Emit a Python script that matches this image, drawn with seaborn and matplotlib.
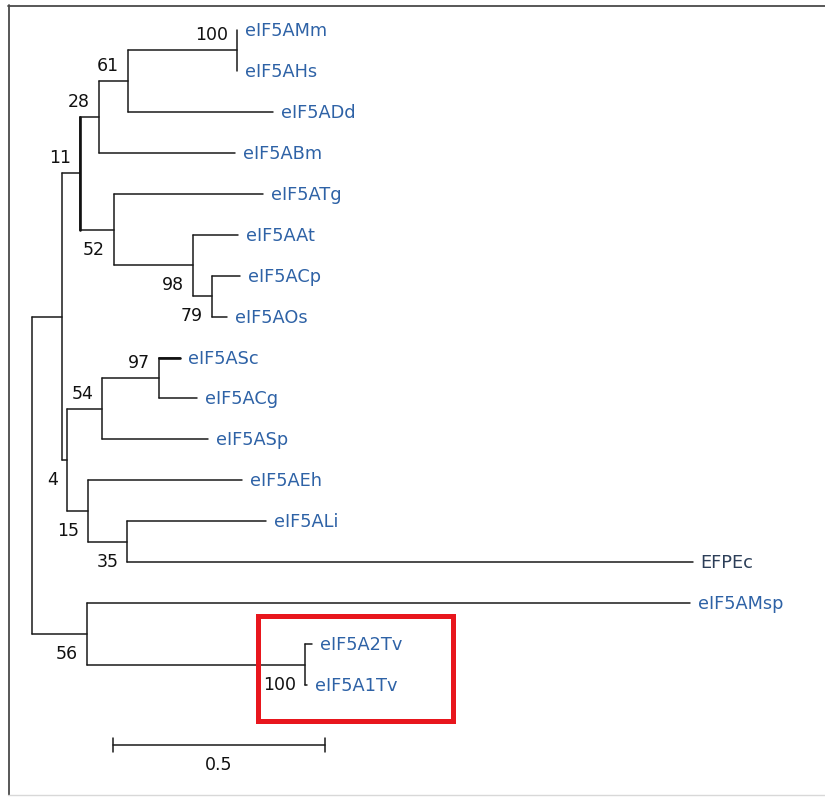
import numpy as np
import pandas as pd
import matplotlib
matplotlib.use("Agg")
import matplotlib.pyplot as plt
import seaborn as sns
from matplotlib.patches import Rectangle
from matplotlib.lines import Line2D

# ---------------- data: tree topology (preorder), branch lengths, labels ----------------
parent = [-1, 0, 1, 2, 3, 4, 5, 5, 4, 3, 2, 10, 10, 12, 12, 14, 14,
          1, 17, 18, 19, 19, 18, 17, 23, 23, 25, 25,
          0, 28, 28, 30, 30]
branch_length = [0.0, 0.071, 0.042, 0.045, 0.068, 0.257, 0.0, 0.0, 0.342, 0.321,
                 0.080, 0.351, 0.186, 0.108, 0.045, 0.066, 0.035,
                 0.012, 0.083, 0.134, 0.050, 0.090, 0.248, 0.050, 0.363, 0.092,
                 0.328, 1.333,
                 0.130, 1.422, 0.514, 0.017, 0.005]
node_label = ["", "", "", "", "", "", "eIF5AMm", "eIF5AHs", "eIF5ADd", "eIF5ABm",
              "", "eIF5ATg", "", "eIF5AAt", "", "eIF5ACp", "eIF5AOs",
              "", "", "", "eIF5ASc", "eIF5ACg", "eIF5ASp", "", "eIF5AEh", "",
              "eIF5ALi", "EFPEc",
              "", "eIF5AMsp", "", "eIF5A2Tv", "eIF5A1Tv"]
support = [None, None, 11, 28, 61, 100, None, None, None, None,
           52, None, 98, None, 79, None, None,
           4, 54, 97, None, None, None, 15, None, 35, None, None,
           56, None, 100, None, None]
support_side = ["", "", "up", "up", "up", "up", "", "", "", "",
                "down", "", "down", "", "down", "", "",
                "down", "up", "up", "", "", "", "down", "", "down", "", "",
                "down", "", "down", "", ""]
scale_length = 0.5
scale_label = "0.5"

# ---------------- layout ----------------
W, H = 825, 797
X0, SX = 32.0, 424.0      # pixel of root, pixels per unit distance
Y0, SY = 30.0, 40.94      # pixel of first leaf, pixels per leaf row

sns.set_theme(style="white")
plt.rcParams['font.family'] = ['DejaVu Sans']

n = len(parent)
children = [[] for _ in range(n)]
for i, p in enumerate(parent):
    if p >= 0:
        children[p].append(i)
depth = np.zeros(n)
for i in range(1, n):
    depth[i] = depth[parent[i]] + branch_length[i]
ypos = np.zeros(n)
k = 0
for i in range(n):
    if not children[i]:
        ypos[i] = k
        k += 1
for i in reversed(range(n)):
    if children[i]:
        ypos[i] = 0.5 * (ypos[children[i][0]] + ypos[children[i][-1]])

rows = []
seg = 0
for i in range(n):
    if parent[i] >= 0:
        rows += [(seg, depth[parent[i]], ypos[i]), (seg, depth[i], ypos[i])]
        seg += 1
    if children[i]:
        rows += [(seg, depth[i], ypos[children[i][0]]), (seg, depth[i], ypos[children[i][-1]])]
        seg += 1
df = pd.DataFrame(rows, columns=["seg", "x", "y"])

fig = plt.figure(figsize=(W / 100, H / 100), dpi=100)
ax = fig.add_axes([0, 0, 1, 1])
sns.lineplot(data=df, x="x", y="y", units="seg", estimator=None, sort=False,
             color="#1a1a1a", lw=1.1, ax=ax, legend=False)
# slightly heavier strokes seen in the scan
b = 2
ax.plot([depth[b], depth[b]], [ypos[children[b][0]], ypos[children[b][-1]]], color="#111111", lw=1.9)
s = 20
ax.plot([depth[parent[s]], depth[s]], [ypos[s], ypos[s]], color="#111111", lw=1.9)

ax.set_xlim(-X0 / SX, (W - X0) / SX)
ax.set_ylim((H - Y0) / SY, -Y0 / SY)
ax.axis("off")

PT = 0.72  # points per pixel
for i in range(n):
    if node_label[i]:
        col = "#2c3e58" if node_label[i] == "EFPEc" else "#2e62a6"
        ax.annotate(node_label[i], xy=(depth[i], ypos[i]), xytext=(8 * PT, 1 * PT),
                    textcoords="offset points", ha="left", va="center_baseline",
                    fontsize=12.8, color=col)
    if support[i] is not None:
        dy = 17 if support_side[i] == "up" else -18
        ax.annotate(str(support[i]), xy=(depth[i], ypos[i]), xytext=(-9 * PT, dy * PT),
                    textcoords="offset points", ha="right", va="center_baseline",
                    fontsize=12.5, color="#111111")

# scale bar
sx0 = (113 - X0) / SX
sy = (745 - Y0) / SY
tk = 7 / SY
ax.plot([sx0, sx0 + scale_length], [sy, sy], color="#1a1a1a", lw=1.1)
ax.plot([sx0, sx0], [sy - tk, sy + tk], color="#1a1a1a", lw=1.1)
ax.plot([sx0 + scale_length, sx0 + scale_length], [sy - tk, sy + tk], color="#1a1a1a", lw=1.1)
ax.text(sx0 + scale_length / 2, (765 - Y0) / SY, scale_label, ha="center", va="center",
        fontsize=12.5, color="#111111")

# frame and highlight box (figure pixel coordinates)
def fx(px):
    return px / W
def fy(py):
    return 1 - py / H

fig.add_artist(Line2D([fx(8), fx(825)], [fy(5.5), fy(5.5)], color="#4a4a4a", lw=1.3))
fig.add_artist(Line2D([fx(8.5), fx(8.5)], [fy(5), fy(795)], color="#4a4a4a", lw=1.3))
fig.add_artist(Line2D([fx(8), fx(825)], [fy(795), fy(795)], color="#d8d8d8", lw=1.0))
fig.add_artist(Rectangle((fx(257.5), fy(720.5)), (452.5 - 257.5) / W, (720.5 - 615.5) / H,
                         transform=fig.transFigure, fill=False, ec="#e8161d", lw=3.6))

fig.savefig("out.png", dpi=100)
